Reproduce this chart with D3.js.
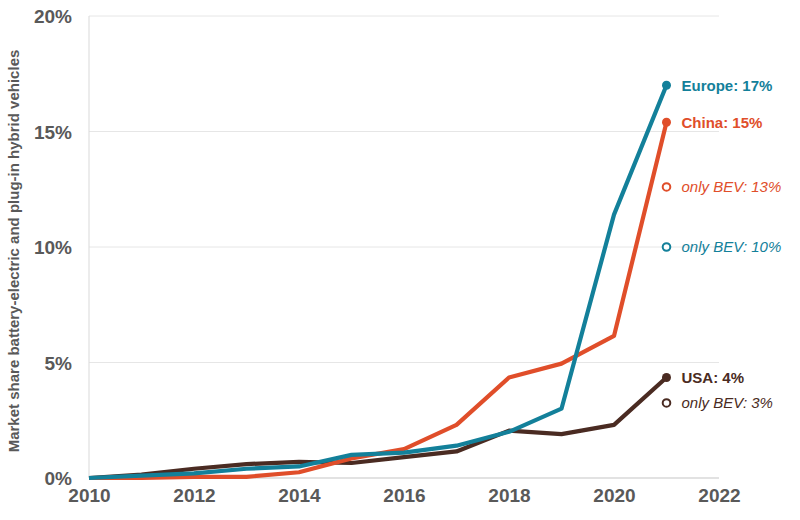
<!DOCTYPE html>
<html><head><meta charset="utf-8">
<script src="https://cdn.jsdelivr.net/npm/d3@7"></script>
<style>body{margin:0;background:#fff;font-family:Arial,"Liberation Sans",sans-serif;}</style>
</head><body><svg id="c" width="800" height="520"></svg>
<script>
const years = [2010,2011,2012,2013,2014,2015,2016,2017,2018,2019,2020,2021];
const europe = [0,0.1,0.2,0.4,0.5,1.0,1.1,1.4,2.0,3.0,11.4,17.0];
const china  = [0,0,0.05,0.05,0.25,0.85,1.25,2.3,4.35,4.95,6.15,15.4];
const usa    = [0,0.15,0.4,0.6,0.7,0.65,0.9,1.15,2.05,1.9,2.3,4.35];
const bev = [{name:"China",v:12.6,label:"only BEV: 13%"},{name:"Europe",v:10.0,label:"only BEV: 10%"},{name:"USA",v:3.25,label:"only BEV: 3%"}];
const seriesLabels = {Europe:"Europe: 17%",China:"China: 15%",USA:"USA: 4%"};
const xTicks = [2010,2012,2014,2016,2018,2020,2022];
const yTicks = [0,5,10,15,20];
const colors = {Europe:"#13809a",China:"#e04e2a",USA:"#4a2b22"};

const svg = d3.select("#c");
const x = d3.scaleLinear().domain([2010,2022]).range([89,719]);
const y = d3.scaleLinear().domain([0,20]).range([478,16]);

svg.append("g").selectAll("line").data(yTicks.filter(d=>d>0)).join("line")
  .attr("x1",x(2010)).attr("x2",x(2022)).attr("y1",d=>y(d)).attr("y2",d=>y(d))
  .attr("stroke","#e6e6e6").attr("stroke-width",1);
svg.append("line").attr("x1",x(2010)).attr("x2",x(2010)).attr("y1",y(20)).attr("y2",y(0)).attr("stroke","#d9d9d9");
svg.append("line").attr("x1",x(2010)).attr("x2",x(2022)).attr("y1",y(0)).attr("y2",y(0)).attr("stroke","#d9d9d9").attr("stroke-width",1.5);

const yAxis = d3.axisLeft(y).tickValues(yTicks).tickFormat(d=>d+"%").tickSize(0).tickPadding(0);
const ya = svg.append("g").attr("transform","translate(72,0)").call(yAxis);
ya.select(".domain").remove();
ya.selectAll("text").attr("font-size",19).attr("font-weight","bold").attr("fill","#595959").attr("font-family","Arial, Liberation Sans, sans-serif").attr("dy","0.35em");

const xAxis = d3.axisBottom(x).tickValues(xTicks).tickFormat(d3.format("d")).tickSize(0).tickPadding(0);
const xa = svg.append("g").attr("transform","translate(0,488)").call(xAxis);
xa.select(".domain").remove();
xa.selectAll("text").attr("font-size",19).attr("font-weight","bold").attr("fill","#595959").attr("font-family","Arial, Liberation Sans, sans-serif").attr("dy","0.75em");

svg.append("text").attr("transform","translate(19,251) rotate(-90)").attr("text-anchor","middle")
  .attr("font-size",15).attr("font-weight","bold").attr("fill","#595959")
  .text("Market share battery-electric and plug-in hybrid vehicles");

const series = [{name:"USA",vals:usa},{name:"China",vals:china},{name:"Europe",vals:europe}];
const line = d3.line().x((d,i)=>x(years[i])).y(d=>y(d));
series.forEach(s=>{
  svg.append("path").datum(s.vals).attr("d",line).attr("fill","none")
    .attr("stroke",colors[s.name]).attr("stroke-width",4.2).attr("stroke-linejoin","round");
});
series.forEach(s=>{
  const last = s.vals[s.vals.length-1];
  svg.append("circle").attr("cx",x(2021)).attr("cy",y(last)).attr("r",4.5).attr("fill",colors[s.name]);
  svg.append("text").attr("x",x(2021)+15).attr("y",y(last)).attr("dy","0.35em")
    .attr("font-size",15).attr("font-weight","bold").attr("fill",colors[s.name]).text(seriesLabels[s.name]);
});
bev.forEach(b=>{
  svg.append("circle").attr("cx",x(2021)).attr("cy",y(b.v)).attr("r",3.8).attr("fill","#fff")
    .attr("stroke",colors[b.name]).attr("stroke-width",2);
  svg.append("text").attr("x",x(2021)+15).attr("y",y(b.v)).attr("dy","0.35em")
    .attr("font-size",15).attr("font-style","italic").attr("fill",colors[b.name]).text(b.label);
});
</script></body></html>
